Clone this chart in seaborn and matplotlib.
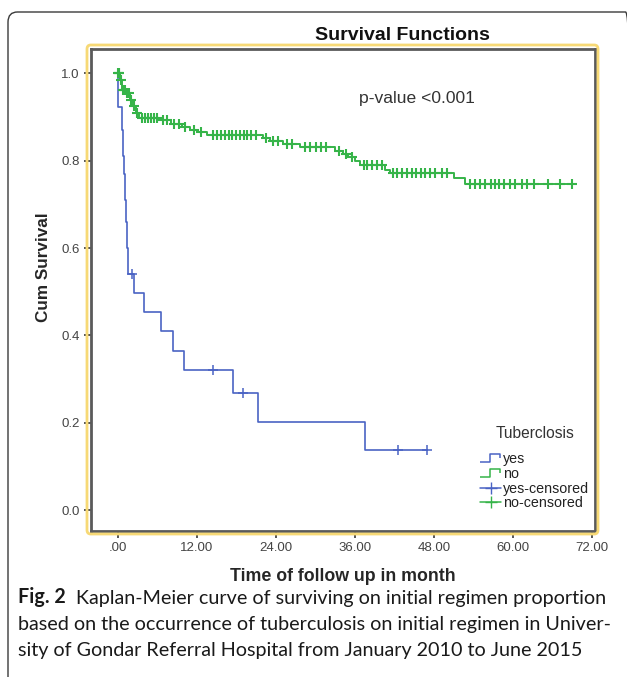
import numpy as np
import seaborn as sns
import matplotlib.pyplot as plt
from matplotlib.lines import Line2D
from matplotlib.path import Path
from matplotlib.patches import FancyBboxPatch

# Kaplan-Meier steps (months, cumulative survival)
yes_time = [0, 0.05, 0.55, 0.7, 0.85, 1.0, 1.15, 1.3, 1.45, 2.45, 4.0, 6.5, 8.3, 10.0, 17.4, 21.2, 37.5, 46.9]
yes_surv = [1.0, 0.924, 0.87, 0.81, 0.77, 0.71, 0.66, 0.60, 0.54, 0.498, 0.454, 0.41, 0.365, 0.321, 0.267, 0.202, 0.137, 0.137]
yes_censor = [2.2, 14.4, 19.0, 42.5, 46.9]

no_time = [0, 0.3, 0.6, 1.2, 1.8, 2.3, 2.7, 3.2, 6.5, 8.0, 9.7, 11.0, 12.2, 13.5, 22.0, 23.1, 25.0, 27.7,
           33.0, 34.2, 35.0, 36.0, 36.8, 40.6, 41.3, 51.0, 52.7, 69.2]
no_surv = [1.0, 0.985, 0.962, 0.955, 0.94, 0.925, 0.91, 0.898, 0.893, 0.885, 0.878, 0.87, 0.866, 0.859,
           0.852, 0.846, 0.838, 0.831, 0.823, 0.815, 0.808, 0.80, 0.79, 0.78, 0.773, 0.76, 0.746, 0.746]
no_censor = [0.0, 0.1, 0.2, 0.4, 0.7, 0.9, 1.1, 1.4, 1.6, 2.0, 2.4, 2.9, 3.6, 4.1, 4.6, 5.0, 5.5, 6.0, 6.8,
             7.4, 8.5, 9.3, 10.2, 11.5, 12.6, 14.5, 15.0, 15.6, 16.2, 16.8, 17.3, 17.9, 18.5, 19.1, 19.6,
             20.2, 21.0, 22.5, 23.6, 24.3, 25.6, 26.5, 28.4, 29.2, 30.1, 30.8, 31.6, 33.6, 34.6, 35.5,
             37.3, 37.9, 38.6, 39.3, 40.1, 41.8, 42.4, 43.2, 43.9, 44.6, 45.2, 46.0, 46.7, 47.4, 48.2,
             49.2, 50.0, 53.5, 54.3, 55.0, 55.8, 56.6, 57.2, 57.9, 58.6, 59.5, 60.3, 61.3, 62.1, 63.2,
             65.3, 67.2, 69.0]

x_ticks = [0, 12, 24, 36, 48, 60, 72]
x_labels = ['.00', '12.00', '24.00', '36.00', '48.00', '60.00', '72.00']
y_ticks = [0.0, 0.2, 0.4, 0.6, 0.8, 1.0]

BLUE = '#4a63c4'
GREEN = '#36b449'


def at_step(times, surv, pts):
    idx = np.searchsorted(times, pts, side='right') - 1
    return np.asarray(surv)[idx]


sns.set_style('white')
plt.rcParams['font.family'] = ['Liberation Sans', 'DejaVu Sans']

fig = plt.figure(figsize=(6.27, 6.77), dpi=100)
W, H = 627, 677

# outer page frame and the yellow chart frame
fig.patches.append(FancyBboxPatch((8 / W, -0.05), 1.0, 1 - 12 / H + 0.05,
                                  boxstyle='round,pad=0,rounding_size=0.015',
                                  transform=fig.transFigure, fill=False,
                                  edgecolor='#3a3a3a', linewidth=1.0))
fig.patches.append(FancyBboxPatch((87 / W, 1 - 534 / H), (598 - 87) / W, (534 - 45) / H,
                                  boxstyle='round,pad=0,rounding_size=0.006',
                                  transform=fig.transFigure, fill=False,
                                  edgecolor='#f7d976', linewidth=2.0))

ax = fig.add_axes([91 / W, 1 - 531 / H, (595 - 91) / W, (531 - 49) / H])

sns.lineplot(x=yes_time, y=yes_surv, ax=ax, color=BLUE, linewidth=1.2,
             drawstyle='steps-post', estimator=None, sort=False)
sns.lineplot(x=no_time, y=no_surv, ax=ax, color=GREEN, linewidth=1.4,
             drawstyle='steps-post', estimator=None, sort=False)
sns.scatterplot(x=yes_censor, y=at_step(yes_time, yes_surv, yes_censor), ax=ax,
                marker='+', s=60, color=BLUE, linewidth=1.1, zorder=3)
sns.scatterplot(x=no_censor, y=at_step(no_time, no_surv, no_censor), ax=ax,
                marker='+', s=60, color=GREEN, linewidth=1.5, zorder=3)

ax.set_xlim(-4.1, 72.46)
ax.set_ylim(-0.048, 1.056)
ax.set_xticks(x_ticks)
ax.set_xticklabels(x_labels)
ax.set_yticks(y_ticks)
ax.set_yticklabels([f'{v:.1f}' for v in y_ticks])
ax.tick_params(axis='both', labelsize=9.5, labelcolor='#444444', length=5, width=1.4,
               color='#555555', direction='out', bottom=True, left=True, pad=3)
for s in ax.spines.values():
    s.set_color('#5a5a5a')
    s.set_linewidth(2.0)

ax.set_xlabel('Time of follow up in month', fontsize=12.8, fontweight='bold', labelpad=10)
ax.set_ylabel('Cum Survival', fontsize=12.3, fontweight='bold')
ax.yaxis.set_label_coords((51 - 91) / 504, (531 - 267) / 482)
fig.text(402 / W, 1 - 36 / H, 'Survival Functions', fontsize=14, fontweight='bold',
         ha='center', va='center', color='#111111')
ax.text(417 / W, 1 - 99 / H, 'p-value <0.001', transform=fig.transFigure, fontsize=12.6,
        ha='center', va='center', color='#333333')

# legend with step glyphs
step = Path([(-1.0, -0.35), (-0.1, -0.35), (-0.1, 0.35), (0.8, 0.35), (0.8, 0.0)])
handles = [
    Line2D([], [], color=BLUE, marker=step, markersize=16, linestyle='none',
           markerfacecolor='none', markeredgewidth=1.1),
    Line2D([], [], color=GREEN, marker=step, markersize=16, linestyle='none',
           markerfacecolor='none', markeredgewidth=1.1),
    Line2D([], [], color=BLUE, marker='+', markersize=9, linewidth=1.1),
    Line2D([], [], color=GREEN, marker='+', markersize=9, linewidth=1.1),
]
leg = fig.legend(handles, ['yes', 'no', 'yes-censored', 'no-censored'], title='Tuberclosis',
                 loc='upper left', bbox_to_anchor=(470 / W, 1 - 416 / H), frameon=False,
                 fontsize=10.3, title_fontsize=11.2, handlelength=1.5, handletextpad=0.1,
                 labelspacing=0.05, borderpad=0.2)
leg.get_title().set_color('#333333')
for t in leg.get_texts():
    t.set_color('#222222')
leg._legend_box.sep = 8

# caption
cap = {'fontsize': 14.2, 'family': ['Lato', 'DejaVu Sans'], 'color': '#1a1a1a'}
t1 = fig.text(18 / W, 1 - 607 / H, 'Fig. 2', fontweight='bold', va='bottom', **cap)
fig.add_artist(plt.Annotation('  Kaplan-Meier curve of surviving on initial regimen proportion',
                              xy=(1, 0), xycoords=t1, va='bottom', **cap))
fig.text(18 / W, 1 - 633 / H, 'based on the occurrence of tuberculosis on initial regimen in Univer-',
         va='bottom', **cap)
fig.text(18 / W, 1 - 659 / H, 'sity of Gondar Referral Hospital from January 2010 to June 2015',
         va='bottom', **cap)

fig.savefig('out.png', dpi=100)
